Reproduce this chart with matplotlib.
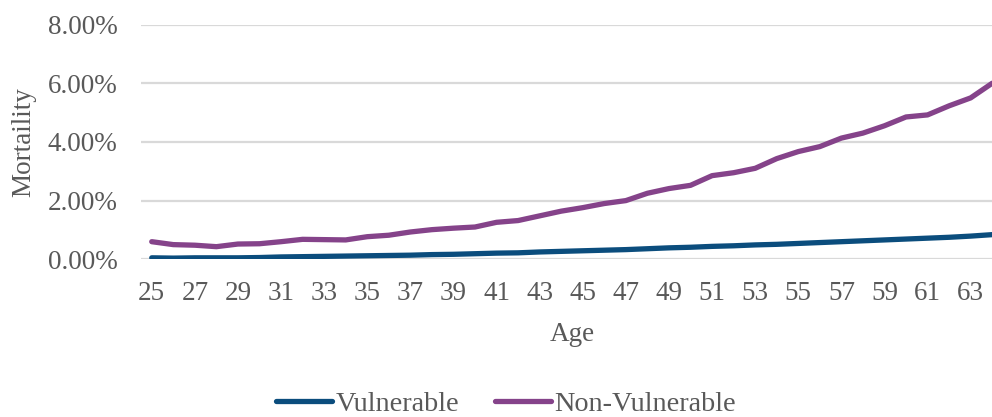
import numpy as np
import matplotlib.pyplot as plt
from matplotlib.ticker import FuncFormatter, MultipleLocator

plt.rcParams['font.family'] = ['Liberation Serif', 'DejaVu Serif']

# Mortality by age (in %)
ages = list(range(25, 65))
vulnerable = [0.05, 0.04, 0.05, 0.05, 0.05, 0.06, 0.08, 0.09, 0.10, 0.11,
              0.12, 0.13, 0.14, 0.16, 0.17, 0.19, 0.21, 0.22, 0.25, 0.27,
              0.29, 0.31, 0.33, 0.36, 0.39, 0.41, 0.44, 0.46, 0.49, 0.51,
              0.54, 0.57, 0.60, 0.63, 0.66, 0.69, 0.72, 0.75, 0.79, 0.84]
non_vulnerable = [0.60, 0.50, 0.48, 0.43, 0.52, 0.53, 0.60, 0.68, 0.67, 0.66,
                  0.77, 0.82, 0.93, 1.01, 1.06, 1.10, 1.26, 1.32, 1.48, 1.64,
                  1.76, 1.90, 2.00, 2.25, 2.41, 2.52, 2.85, 2.95, 3.10, 3.43,
                  3.67, 3.84, 4.13, 4.30, 4.55, 4.85, 4.92, 5.23, 5.50, 6.00]

txt = '#595959'
fs = 19.5

fig = plt.figure(figsize=(9.92, 4.17), dpi=100)
ax = fig.add_axes([0.1421, 0.3782, 0.869, 0.563])

ax.plot(ages, vulnerable, color='#0B4D7D', lw=3.8, solid_capstyle='round',
        label='Vulnerable')
ax.plot(ages, non_vulnerable, color='#85438A', lw=3.8, solid_capstyle='round',
        label='Non-Vulnerable')

ax.set_xlim(24.5, 64.5)
ax.set_ylim(0, 8)
ax.yaxis.set_major_locator(MultipleLocator(2))
ax.yaxis.set_major_formatter(FuncFormatter(lambda v, p: f'{v:.2f}%'))
ax.set_xticks(ages[::2])
ax.grid(axis='y', color='#D9D9D9', lw=1.6)
ax.set_axisbelow(True)
for s in ax.spines.values():
    s.set_visible(False)
ax.tick_params(axis='y', length=0, pad=17, labelsize=fs, labelcolor=txt)
ax.tick_params(axis='x', length=0, pad=15.5, labelsize=fs, labelcolor=txt)

ax.set_xlabel('Age', fontsize=fs, color=txt, labelpad=11.5)
ax.set_ylabel('Mortaility', fontsize=fs, color=txt, labelpad=8)

fig.legend(loc='center', bbox_to_anchor=(0.51, 0.031), ncol=2, frameon=False,
           fontsize=20.3, labelcolor=txt, handlelength=2.0, handletextpad=0.12,
           columnspacing=1.25)

fig.savefig('out.png', dpi=100)
